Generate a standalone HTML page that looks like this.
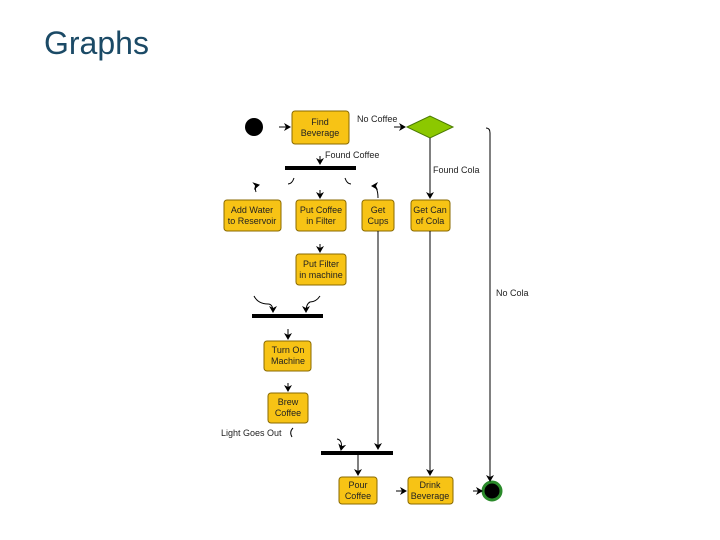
<!DOCTYPE html>
<html><head><meta charset="utf-8"><style>
html,body{margin:0;padding:0;background:#fff;width:720px;height:540px;overflow:hidden}
svg{position:absolute;left:0;top:0}
</style></head><body>
<svg width="720" height="540" viewBox="0 0 720 540" xmlns="http://www.w3.org/2000/svg" font-family="Liberation Sans, sans-serif">
<defs>
<marker id="a" markerWidth="8" markerHeight="8" refX="6" refY="4" orient="auto" markerUnits="userSpaceOnUse"><path d="M0,0 L7,4 L0,8 L2,4 z" fill="#000"/></marker>
</defs>
<text x="44" y="54" font-size="32" fill="#1b4a66">Graphs</text>
<g stroke="#8a6a00" stroke-width="1" fill="#f7c315">
<rect x="292" y="111" width="57" height="33" rx="3"/>
<rect x="224" y="200" width="57" height="31" rx="3"/>
<rect x="296" y="200" width="50" height="31" rx="3"/>
<rect x="362" y="200" width="32" height="31" rx="3"/>
<rect x="411" y="200" width="39" height="31" rx="3"/>
<rect x="296" y="254" width="50" height="31" rx="3"/>
<rect x="264" y="341" width="47" height="30" rx="3"/>
<rect x="268" y="393" width="40" height="30" rx="3"/>
<rect x="339" y="477" width="38" height="27" rx="3"/>
<rect x="408" y="477" width="45" height="27" rx="3"/>
</g>
<polygon points="407,127 430,116 453,127 430,138" fill="#8cc800" stroke="#4a7a00"/>
<circle cx="254" cy="127" r="9" fill="#000"/>
<circle cx="492" cy="491" r="9" fill="#000" stroke="#2a8a2a" stroke-width="3"/>
<g fill="#000">
<rect x="285" y="166" width="71" height="4"/>
<rect x="252" y="314" width="71" height="4"/>
<rect x="321" y="451" width="72" height="4"/>
</g>
<g stroke="#000" stroke-width="1" fill="none" marker-end="url(#a)">
<line x1="279" y1="127" x2="290" y2="127"/>
<line x1="394" y1="127" x2="405" y2="127"/>
<line x1="320" y1="156" x2="320" y2="164"/>
<path d="M256,192 Q254,186 259,185"/>
<line x1="320" y1="190" x2="320" y2="198"/>
<path d="M378,198 Q378,186 372,186"/>
<line x1="430" y1="138" x2="430" y2="198"/>
<line x1="320" y1="244" x2="320" y2="252"/>
<path d="M254,296 Q258,304 268,304 Q273,304 273,312"/>
<path d="M320,296 Q316,302 310,302 Q306,304 306,312"/>
<line x1="288" y1="329" x2="288" y2="339"/>
<line x1="288" y1="383" x2="288" y2="391"/>
<path d="M337,439 Q343,440 341,450"/>
<line x1="378" y1="231" x2="378" y2="449"/>
<line x1="358" y1="455" x2="358" y2="475"/>
<line x1="430" y1="231" x2="430" y2="475"/>
<path d="M486,128 Q490,128 490,133 L490,481"/>
<line x1="396" y1="491" x2="406" y2="491"/>
<line x1="473" y1="491" x2="482" y2="491"/>
</g>
<g stroke="#000" stroke-width="1" fill="none">
<path d="M294,178 Q292,184 288,184"/>
<path d="M345,178 Q347,184 351,184"/>
<path d="M293,428 Q289,432 292,437"/>
</g>
<g font-size="9" fill="#222" text-anchor="middle">
<text x="320" y="125">Find</text><text x="320" y="136">Beverage</text>
<text x="252" y="213">Add Water</text><text x="252" y="224">to Reservoir</text>
<text x="321" y="213">Put Coffee</text><text x="321" y="224">in Filter</text>
<text x="378" y="213">Get</text><text x="378" y="224">Cups</text>
<text x="430" y="213">Get Can</text><text x="430" y="224">of Cola</text>
<text x="321" y="267">Put Filter</text><text x="321" y="278">in machine</text>
<text x="288" y="353">Turn On</text><text x="288" y="364">Machine</text>
<text x="288" y="405">Brew</text><text x="288" y="416">Coffee</text>
<text x="358" y="488">Pour</text><text x="358" y="499">Coffee</text>
<text x="430" y="488">Drink</text><text x="430" y="499">Beverage</text>
</g>
<g font-size="9" fill="#222">
<text x="357" y="122">No Coffee</text>
<text x="325" y="158">Found Coffee</text>
<text x="433" y="173">Found Cola</text>
<text x="496" y="296">No Cola</text>
<text x="221" y="436">Light Goes Out</text>
</g>
</svg>
</body></html>
